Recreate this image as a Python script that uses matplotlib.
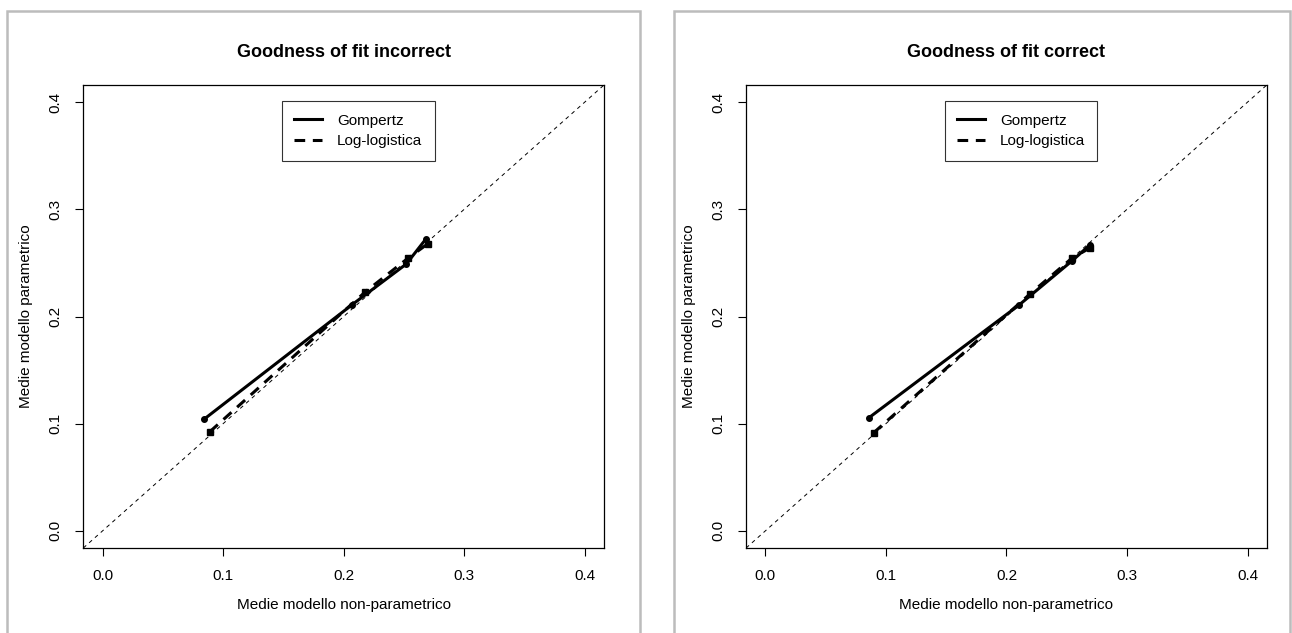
"""Goodness-of-fit plots: parametric vs non-parametric group means."""

import matplotlib

matplotlib.use("Agg")
import matplotlib.pyplot as plt
from matplotlib.patches import Rectangle

plt.rcParams["font.family"] = ["Liberation Sans", "DejaVu Sans"]

# Left panel: incorrect model
INC_GOMP_X = [0.084, 0.207, 0.252, 0.268]
INC_GOMP_Y = [0.104, 0.211, 0.249, 0.272]
INC_LOGL_X = [0.089, 0.218, 0.2535, 0.270]
INC_LOGL_Y = [0.0925, 0.223, 0.2545, 0.268]

# Right panel: correct model
COR_GOMP_X = [0.086, 0.210, 0.2545, 0.2694]
COR_GOMP_Y = [0.1056, 0.2103, 0.2520, 0.2670]
COR_LOGL_X = [0.0899, 0.2197, 0.2545, 0.2694]
COR_LOGL_Y = [0.0916, 0.2212, 0.2546, 0.2640]

TICKS = [0.0, 0.1, 0.2, 0.3, 0.4]
TICK_LABELS = ["0.0", "0.1", "0.2", "0.3", "0.4"]
TITLES = ["Goodness of fit incorrect", "Goodness of fit correct"]
XLABEL = "Medie modello non-parametrico"
YLABEL = "Medie modello parametrico"
LEGEND = ["Gompertz", "Log-logistica"]

W, H = 1292, 633
FRAME = "#bcbcbc"
TEXT_SIZE = 11


def _panel(ax, gx, gy, lx, ly, title):
    ax.axline((0, 0), slope=1, color="black", linestyle=(0, (4, 4)),
              linewidth=0.7, zorder=1)
    g, = ax.plot(gx, gy, color="black", linewidth=2.2, marker="o",
                 markersize=4, zorder=3)
    l, = ax.plot(lx, ly, color="black", linewidth=2.2, marker="s",
                 markersize=5, linestyle=(0, (3.5, 2.5)), zorder=3)
    ax.set_xlim(-0.016, 0.416)
    ax.set_ylim(-0.016, 0.416)
    ax.set_xticks(TICKS)
    ax.set_xticklabels(TICK_LABELS)
    ax.set_yticks(TICKS)
    ax.set_yticklabels(TICK_LABELS, rotation=90, va="center")
    ax.tick_params(length=6, width=0.8, labelsize=TEXT_SIZE, pad=9)
    for s in ax.spines.values():
        s.set_linewidth(0.9)
    ax.set_title(title, fontsize=13, fontweight="bold", pad=20)
    ax.set_xlabel(XLABEL, fontsize=TEXT_SIZE, labelpad=11)
    ax.set_ylabel(YLABEL, fontsize=TEXT_SIZE, labelpad=11)
    leg = ax.legend([g, l], LEGEND, loc="upper left",
                    bbox_to_anchor=(0.149, 0.4007), bbox_transform=ax.transData,
                    fontsize=TEXT_SIZE, frameon=True, fancybox=False,
                    handlelength=1.8, handletextpad=1.0, borderpad=0.8,
                    labelspacing=0.45, borderaxespad=0)
    leg.get_frame().set_edgecolor("black")
    leg.get_frame().set_linewidth(0.8)
    for h in leg.legend_handles:
        h.set_marker("")


fig = plt.figure(figsize=(W / 100, H / 100), dpi=100)

# Grey frames around each panel
for x0, x1 in ((7, 640), (674, 1290)):
    fig.patches.append(Rectangle((x0 / W, -0.05), (x1 - x0) / W, 1.05 - 11 / H,
                                 transform=fig.transFigure, fill=False,
                                 edgecolor=FRAME, linewidth=1.8))

ax_w = (604 - 83.3) / W
ax_h = (548 - 85) / H
ax_b = 1 - 548 / H
ax1 = fig.add_axes([83.3 / W, ax_b, ax_w, ax_h])
ax2 = fig.add_axes([746.1 / W, ax_b, ax_w, ax_h])

_panel(ax1, INC_GOMP_X, INC_GOMP_Y, INC_LOGL_X, INC_LOGL_Y, TITLES[0])
_panel(ax2, COR_GOMP_X, COR_GOMP_Y, COR_LOGL_X, COR_LOGL_Y, TITLES[1])

fig.savefig("out.png", dpi=100)
